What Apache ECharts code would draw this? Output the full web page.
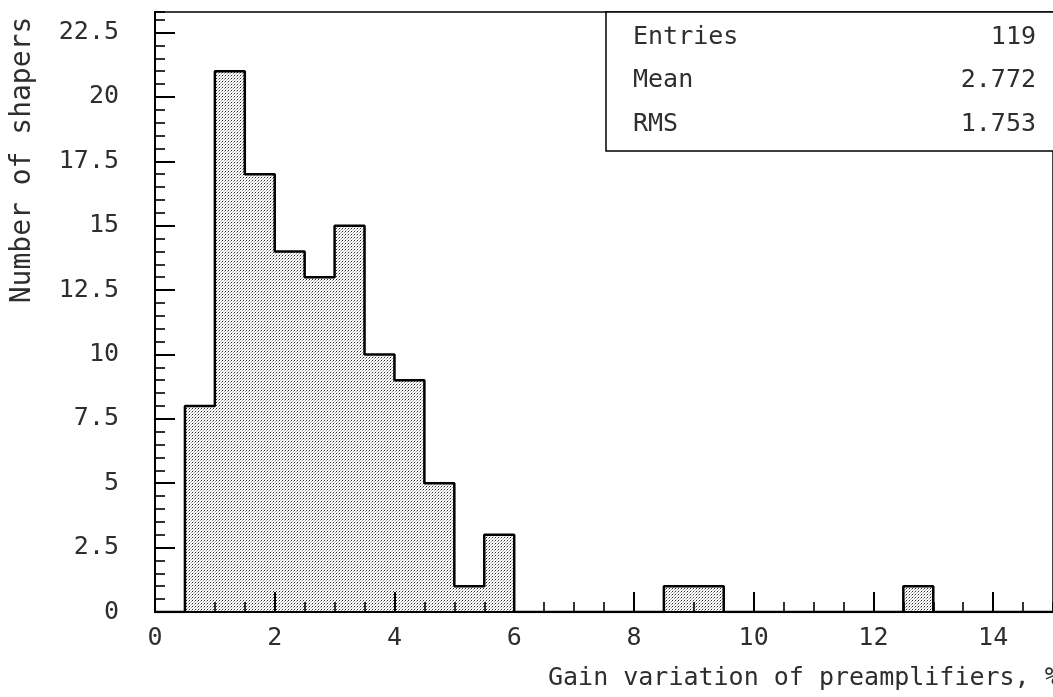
<!DOCTYPE html>
<html>
<head>
<meta charset="utf-8">
<script src="https://cdn.jsdelivr.net/npm/echarts@6/dist/echarts.min.js"></script>
<style>
  html, body { margin: 0; padding: 0; background: #fff; }
  #chart { width: 1053px; height: 697px; }
</style>
</head>
<body>
<div id="chart"></div>
<script>
// Histogram of gain variation: 0.5 %-wide bins starting at 0
const binStart = 0;
const binWidth = 0.5;
const counts = [0, 8, 21, 17, 14, 13, 15, 10, 9, 5, 1, 3,
                0, 0, 0, 0, 0, 1, 1, 0, 0, 0, 0, 0, 0, 1, 0, 0, 0, 0];

// Statistics box
const statLabels = ['Entries', 'Mean', 'RMS'];
const statValues = ['119', '2.772', '1.753'];

// Axis ranges and titles
const xRange = [0, 15];
const yRange = [0, 23.3];
const xMajor = 2, xMinor = 0.5;
const yMajor = 2.5, yMinor = 0.5;
const xTitle = 'Gain variation of preamplifiers, %';
const yTitle = 'Number of shapers';

const FONT = '"DejaVu Sans Mono", monospace';
const INK = '#2e2e2e';

// Stippled fill used for the histogram body
const dot = document.createElement('canvas');
dot.width = 3; dot.height = 3;
const dc = dot.getContext('2d');
dc.fillStyle = '#ffffff'; dc.fillRect(0, 0, 3, 3);
dc.fillStyle = '#2c2c2c'; dc.fillRect(0, 0, 1, 1);
dc.fillStyle = '#a0a0a0'; dc.fillRect(2, 1, 1, 1);
dc.fillStyle = '#c4c4c4'; dc.fillRect(1, 2, 1, 1);

const binData = counts.map((v, i) => [binStart + i * binWidth, binStart + (i + 1) * binWidth, v]);
const outline = counts.map((v, i) => [binStart + i * binWidth, v]);
outline.push([binStart + counts.length * binWidth, 0]);

const chart = echarts.init(document.getElementById('chart'), null, { renderer: 'canvas' });

const majorAxisCommon = {
  type: 'value',
  z: 10,
  splitLine: { show: false },
  axisLine: { show: true, lineStyle: { color: '#000', width: 2 } },
  axisTick: { show: true, inside: true, length: 20, lineStyle: { color: '#000', width: 2 } },
  axisLabel: { fontFamily: FONT, fontSize: 25, color: INK, showMaxLabel: false }
};
const minorAxisCommon = {
  type: 'value',
  z: 10,
  splitLine: { show: false },
  axisLine: { show: false },
  axisTick: { show: true, inside: true, length: 10, lineStyle: { color: '#000', width: 1.6 } },
  axisLabel: { show: false }
};

chart.setOption({
  animation: false,
  backgroundColor: '#fff',
  grid: {
    left: 155, top: 12, width: 905, height: 600,
    show: true, borderColor: '#000', borderWidth: 1.5, backgroundColor: 'transparent'
  },
  xAxis: [
    Object.assign({}, majorAxisCommon, {
      min: xRange[0], max: xRange[1], interval: xMajor, position: 'bottom',
      axisLabel: Object.assign({}, majorAxisCommon.axisLabel, { margin: 14 })
    }),
    Object.assign({}, minorAxisCommon, {
      min: xRange[0], max: xRange[1], interval: xMinor, position: 'bottom'
    })
  ],
  yAxis: [
    Object.assign({}, majorAxisCommon, {
      min: yRange[0], max: yRange[1], interval: yMajor, position: 'left',
      axisLabel: Object.assign({}, majorAxisCommon.axisLabel, { margin: 36 })
    }),
    Object.assign({}, minorAxisCommon, {
      min: yRange[0], max: yRange[1], interval: yMinor, position: 'left'
    })
  ],
  series: [
    {
      type: 'custom',
      silent: true,
      xAxisIndex: 0, yAxisIndex: 0,
      z: 2,
      data: binData,
      encode: { x: [0, 1], y: 2 },
      renderItem: function (params, api) {
        const n = api.value(2);
        if (!(n > 0)) return null;
        const top = api.coord([api.value(0), n]);
        const base = api.coord([api.value(1), 0]);
        return {
          type: 'rect',
          shape: { x: top[0], y: top[1], width: base[0] - top[0], height: base[1] - top[1] },
          style: { fill: { image: dot, repeat: 'repeat' } }
        };
      }
    },
    {
      type: 'line',
      silent: true,
      xAxisIndex: 0, yAxisIndex: 0,
      z: 3,
      step: 'end',
      symbol: 'none',
      data: outline,
      lineStyle: { color: '#000', width: 2.5 }
    }
  ],
  graphic: [
    // statistics box
    {
      type: 'rect', z: 20,
      shape: { x: 606, y: 12, width: 470, height: 139 },
      style: { fill: '#fff', stroke: '#000', lineWidth: 1.5 }
    },
    ...statLabels.map((t, i) => ({
      type: 'text', z: 21, x: 633, y: 37 + i * 43.5,
      style: { text: t, font: '25px ' + FONT, fill: INK, align: 'left', verticalAlign: 'middle' }
    })),
    ...statValues.map((t, i) => ({
      type: 'text', z: 21, x: 1036, y: 37 + i * 43.5,
      style: { text: t, font: '25px ' + FONT, fill: INK, align: 'right', verticalAlign: 'middle' }
    })),
    // axis titles
    {
      type: 'text', z: 21, x: 548, y: 678,
      style: { text: xTitle, font: '25px ' + FONT, fill: INK, align: 'left', verticalAlign: 'middle' }
    },
    {
      type: 'text', z: 21, x: 23, y: 160, rotation: Math.PI / 2,
      style: { text: yTitle, font: '28px ' + FONT, fill: INK, align: 'center', verticalAlign: 'middle' }
    }
  ]
});
</script>
</body>
</html>
